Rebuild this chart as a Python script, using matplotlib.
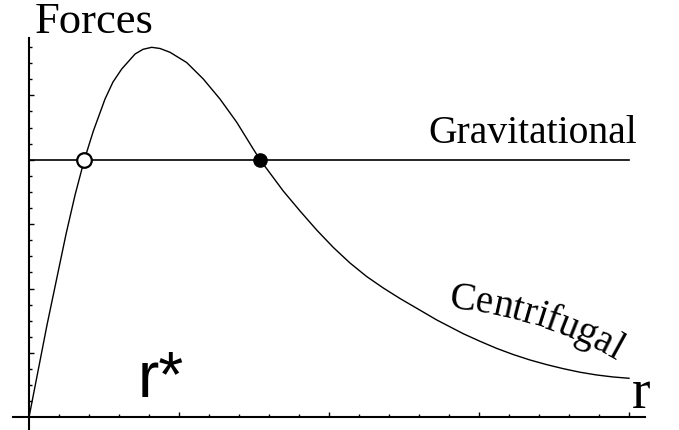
import numpy as np
import matplotlib.pyplot as plt
from matplotlib.font_manager import FontProperties
from matplotlib.transforms import IdentityTransform

# Curva centrifuga (r, fuerza)
r_vals = [0.000, 0.120, 0.247, 0.307, 0.369, 0.429, 0.507, 0.560, 0.618, 0.707,
          0.760, 0.818, 0.873, 0.940, 1.051, 1.162, 1.273, 1.385, 1.495, 1.540,
          1.695, 1.807, 1.918, 2.029, 2.140, 2.251, 2.362, 2.473, 2.585, 2.718,
          2.895, 3.007, 3.118, 3.229, 3.340, 3.451, 3.562, 3.673, 3.785, 3.895,
          4.000]
f_vals = [0.000, 1.433, 2.846, 3.452, 4.000, 4.446, 4.943, 5.207, 5.408, 5.641,
          5.714, 5.745, 5.727, 5.668, 5.509, 5.253, 4.943, 4.581, 4.166, 4.000,
          3.514, 3.203, 2.908, 2.637, 2.396, 2.186, 2.008, 1.845, 1.693, 1.512,
          1.298, 1.180, 1.070, 0.974, 0.890, 0.818, 0.755, 0.700, 0.657, 0.626,
          0.606]

# Fuerza gravitacional constante
grav_nivel = 4.0
grav_r = [0.0, 4.0]

# Puntos de equilibrio
r_inestable = [0.369]
r_estable = [1.540]

texto_serif = 'Liberation Serif'
texto_sans = 'Liberation Sans'

ANCHO, ALTO = 679, 431


def texto_en_arco(fig, texto, x0, y0, ang0, ang1, largo, size):
    # coloca cada letra sobre un arco (coordenadas en pixeles, y hacia abajo)
    fp = FontProperties(family=texto_serif, size=size)
    renderer = fig.canvas.get_renderer()
    s = np.linspace(0, largo * 1.2, 600)
    ang = np.radians(ang0 + (ang1 - ang0) * s / largo)
    ds = s[1] - s[0]
    xs = x0 + np.concatenate([[0], np.cumsum(np.cos(ang[:-1]) * ds)])
    ys = (ALTO - y0) + np.concatenate([[0], np.cumsum(np.sin(ang[:-1]) * ds)])
    for i, ch in enumerate(texto):
        if i == 0:
            pos = 0.0
        else:
            pos = renderer.get_text_width_height_descent(texto[:i], fp, ismath=False)[0]
        px = np.interp(pos, s, xs)
        py = np.interp(pos, s, ys)
        ancho_ch = renderer.get_text_width_height_descent(ch, fp, ismath=False)[0]
        rot = np.degrees(np.interp(pos + ancho_ch / 2, s, ang))
        fig.text(px, py, ch, fontproperties=fp, rotation=rot,
                 rotation_mode='anchor', ha='left', va='baseline',
                 transform=IdentityTransform())


def main():
    fig = plt.figure(figsize=(ANCHO / 100, ALTO / 100), dpi=100)
    ax = fig.add_axes([0, 0, 1, 1])
    ax.set_xlim(-29 / 150, (ANCHO - 29) / 150)
    ax.set_ylim((418.3 - ALTO) / 64.4, 418.3 / 64.4)

    # ejes tipo Mathematica
    for lado in ['top', 'right']:
        ax.spines[lado].set_visible(False)
    ax.spines['left'].set_position(('data', 0))
    ax.spines['bottom'].set_position(('data', 0))
    ax.spines['left'].set_bounds(-0.18, 5.89)
    ax.spines['bottom'].set_bounds(-0.107, 4.107)
    ax.spines['left'].set_linewidth(1.5)
    ax.spines['bottom'].set_linewidth(1.5)

    ax.set_xticks([1, 2, 3, 4])
    ax.set_xticks(np.arange(0.2, 4.01, 0.2), minor=True)
    ax.set_yticks([1, 2, 3, 4, 5])
    ax.set_yticks(np.arange(0.25, 5.76, 0.25), minor=True)
    ax.tick_params(which='both', direction='in', labelleft=False,
                   labelbottom=False, width=1.0, color='black')
    ax.tick_params(which='major', length=3.8)
    ax.tick_params(which='minor', length=2.2)

    # curvas
    ax.plot(grav_r, [grav_nivel, grav_nivel], color='black', lw=1.2)
    ax.plot(r_vals, f_vals, color='black', lw=1.0, solid_joinstyle='round')
    ax.plot(r_inestable, [grav_nivel], 'o', ms=10.5, mfc='white',
            mec='black', mew=1.6, zorder=5)
    ax.plot(r_estable, [grav_nivel], 'o', ms=9.5, mfc='black',
            mec='black', zorder=5)

    # textos
    t = IdentityTransform()
    fig.text(35, ALTO - 33, 'Forces', family=texto_serif, size=32,
             ha='left', va='baseline', transform=t)
    fig.text(428, ALTO - 143, 'Gravitational', family=texto_serif, size=28.5,
             ha='left', va='baseline', transform=t)
    fig.text(138, ALTO - 397, 'r*', family=texto_sans, size=46,
             ha='left', va='baseline', transform=t)
    fig.text(632, ALTO - 408, 'r', family=texto_serif, size=40,
             ha='left', va='baseline', transform=t)
    texto_en_arco(fig, 'Centrifugal', 448, 308, -5, -30, 180, 28)

    fig.savefig('out.png', dpi=100)


if __name__ == "__main__":
    main()
